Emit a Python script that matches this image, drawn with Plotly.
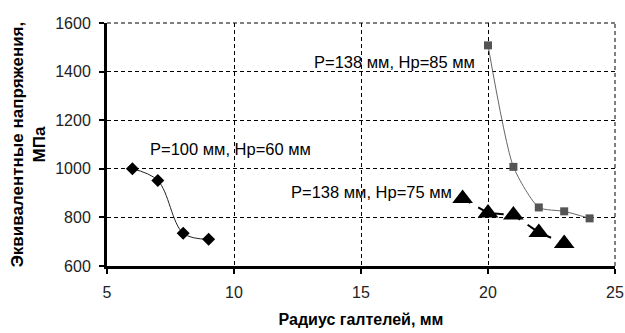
import plotly.graph_objects as go

# Series data
x1 = [6, 7, 8, 9]
y1 = [1000, 952, 735, 710]

x2 = [20, 21, 22, 23, 24]
y2 = [1508, 1008, 841, 825, 796]

x3 = [19, 20, 21, 22, 23]
y3 = [878, 818, 810, 738, 693]

xticks = [5, 10, 15, 20, 25]
yticks = [600, 800, 1000, 1200, 1400, 1600]

labels = ["P=100 мм, Hp=60 мм", "P=138 мм, Hp=85 мм", "P=138 мм, Hp=75 мм"]
label_x = [9.85, 16.3, 15.4]
label_y = [1082, 1440, 905]

FONT = "Liberation Sans, Arial, sans-serif"
DASH = "4px,3px"

fig = go.Figure()
fig.add_trace(go.Scatter(
    x=x1, y=y1, mode="lines+markers",
    line=dict(color="#222222", width=1, shape="spline", smoothing=1),
    marker=dict(symbol="diamond", size=10, color="black"),
    showlegend=False))
fig.add_trace(go.Scatter(
    x=x2, y=y2, mode="lines+markers",
    line=dict(color="#666666", width=1, shape="spline", smoothing=0.6),
    marker=dict(symbol="square", size=8, color="#555555"),
    showlegend=False))
fig.add_trace(go.Scatter(
    x=x3, y=y3, mode="lines+markers",
    line=dict(color="black", width=2, dash="dash"),
    marker=dict(symbol="triangle-up", size=18, color="black"),
    showlegend=False))

for t, xx, yy in zip(labels, label_x, label_y):
    fig.add_annotation(x=xx, y=yy, text=t, showarrow=False,
                       font=dict(family=FONT, size=16.5, color="black"),
                       xanchor="center", yanchor="middle")

# dashed border lines on top and right (gridlines at range ends)
fig.add_shape(type="line", xref="paper", yref="paper", x0=0, x1=1, y0=1, y1=1,
              line=dict(color="black", width=1, dash=DASH), layer="below")
fig.add_shape(type="line", xref="paper", yref="paper", x0=1, x1=1, y0=0, y1=1,
              line=dict(color="black", width=1, dash=DASH), layer="below")

grid = dict(showgrid=True, gridcolor="black", gridwidth=1, griddash=DASH)

fig.update_xaxes(range=[5, 25], tickvals=xticks, ticks="outside", ticklen=5,
                 tickwidth=2, tickcolor="black", showline=True, linecolor="black",
                 linewidth=3, zeroline=False, ticklabelstandoff=5, automargin=False,
                 tickfont=dict(family=FONT, size=16, color="#222222"),
                 title=dict(text="<b>Радиус галтелей, мм</b>", standoff=14,
                            font=dict(family=FONT, size=16, color="black")),
                 **grid)
fig.update_yaxes(range=[600, 1600], tickvals=yticks, ticks="outside", ticklen=5,
                 tickwidth=2, tickcolor="black", showline=True, linecolor="black",
                 linewidth=3, zeroline=False, ticklabelstandoff=5, automargin=False,
                 tickfont=dict(family=FONT, size=16, color="#222222"),
                 title=dict(text="<b>Эквивалентные напряжения,<br>МПа</b>", standoff=6,
                            font=dict(family=FONT, size=17, color="black")),
                 **grid)

fig.update_layout(width=625, height=333, margin=dict(l=107, r=10, t=23, b=67),
                  plot_bgcolor="white", paper_bgcolor="white",
                  font=dict(family=FONT))

fig.write_html("out.html")
